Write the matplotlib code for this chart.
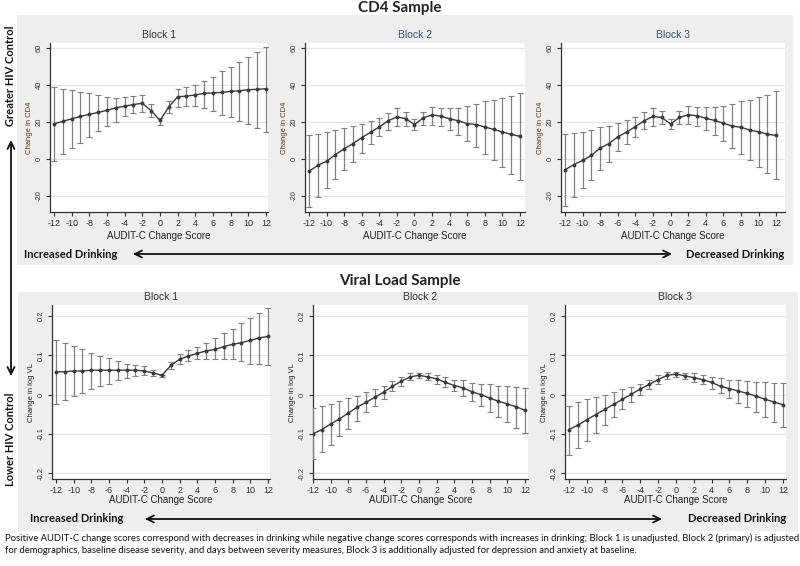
import matplotlib
matplotlib.use("Agg")
import matplotlib.pyplot as plt
from matplotlib.patches import Rectangle, FancyArrowPatch
import numpy as np

# ---------------- data ----------------
audit_x = list(range(-12, 13))
block_titles = ["Block 1", "Block 2", "Block 3"]

# CD4 sample
cd4_b1 = [18.9, 20.2, 21.6, 22.9, 24.0, 25.0, 26.2, 27.5, 28.4, 29.3, 30.0, 26.0, 20.7,
          28.0, 33.5, 33.8, 34.5, 35.3, 35.6, 35.8, 36.4, 36.7, 37.3, 37.5, 37.8]
cd4_b1_lo = [-1.0, 2.4, 5.6, 8.7, 12.0, 15.0, 17.8, 20.0, 23.0, 24.7, 25.0, 22.5, 18.5,
             24.7, 28.0, 28.7, 28.4, 27.5, 26.0, 23.8, 22.4, 20.5, 18.7, 16.5, 14.4]
cd4_b1_hi = [38.5, 37.8, 37.0, 36.2, 35.3, 34.4, 33.5, 33.0, 33.3, 33.8, 34.5, 29.6, 22.2,
             31.0, 37.8, 38.5, 40.0, 42.2, 44.4, 47.5, 49.6, 52.5, 55.0, 57.8, 60.5]

cd4_b2 = [-6.7, -3.6, -1.3, 2.2, 5.4, 8.2, 11.4, 14.3, 17.2, 20.5, 22.6, 21.7, 18.5,
          22.1, 23.7, 23.0, 21.6, 20.5, 19.0, 18.5, 17.2, 15.9, 14.5, 13.2, 12.1]
cd4_b2_lo = [-25.9, -20.8, -15.8, -10.9, -6.3, -1.8, 3.1, 7.8, 12.1, 15.4, 17.6, 17.6, 15.4,
             18.1, 18.5, 17.6, 15.8, 12.7, 9.6, 6.3, 2.7, -0.5, -4.5, -8.2, -11.4]
cd4_b2_hi = [12.7, 13.6, 14.3, 15.4, 16.7, 17.6, 19.0, 20.5, 22.1, 24.8, 27.2, 25.4, 21.4,
             25.4, 28.1, 27.5, 27.2, 27.5, 28.4, 29.5, 31.0, 31.7, 33.0, 33.9, 35.3]

cd4_b3 = [-6.0, -3.1, -0.9, 1.8, 5.9, 8.2, 11.9, 14.4, 17.4, 20.5, 22.9, 22.3, 18.8,
          22.3, 23.8, 23.2, 21.9, 20.7, 19.2, 17.7, 17.0, 15.5, 14.6, 13.3, 12.6]
cd4_b3_lo = [-25.6, -20.7, -15.9, -11.5, -5.9, -1.5, 4.0, 7.9, 11.9, 15.9, 17.7, 18.6, 15.9,
             18.6, 18.6, 17.7, 15.5, 12.8, 9.5, 6.0, 2.7, -0.5, -4.2, -7.9, -11.0]
cd4_b3_hi = [13.3, 14.1, 14.6, 15.5, 17.4, 17.7, 19.2, 20.7, 22.5, 25.0, 27.4, 26.0, 21.4,
             25.6, 28.3, 27.8, 27.8, 28.0, 28.7, 29.8, 31.1, 32.0, 33.3, 34.2, 36.6]

# Viral load sample
vl_b1 = [0.058, 0.058, 0.060, 0.060, 0.062, 0.062, 0.062, 0.062, 0.062, 0.062, 0.060, 0.055, 0.049,
         0.074, 0.090, 0.098, 0.105, 0.111, 0.115, 0.122, 0.128, 0.132, 0.138, 0.144, 0.148]
vl_b1_lo = [-0.023, -0.015, -0.004, 0.003, 0.013, 0.023, 0.028, 0.037, 0.043, 0.047, 0.049, 0.047, 0.045,
            0.064, 0.077, 0.085, 0.090, 0.091, 0.091, 0.091, 0.090, 0.085, 0.079, 0.079, 0.074]
vl_b1_hi = [0.139, 0.132, 0.124, 0.115, 0.107, 0.098, 0.092, 0.085, 0.079, 0.076, 0.073, 0.062, 0.051,
            0.083, 0.103, 0.113, 0.120, 0.131, 0.143, 0.156, 0.168, 0.181, 0.194, 0.208, 0.220]

vl_b2 = [-0.100, -0.089, -0.075, -0.062, -0.047, -0.032, -0.020, -0.007, 0.006, 0.021, 0.034, 0.045, 0.049,
         0.045, 0.040, 0.031, 0.023, 0.017, 0.007, 0.000, -0.009, -0.017, -0.024, -0.031, -0.040]
vl_b2_lo = [-0.165, -0.147, -0.128, -0.106, -0.088, -0.068, -0.045, -0.028, -0.011, 0.009, 0.021, 0.036, 0.043,
            0.037, 0.028, 0.019, 0.009, -0.004, -0.017, -0.030, -0.044, -0.057, -0.071, -0.085, -0.098]
vl_b2_hi = [-0.035, -0.030, -0.024, -0.017, -0.009, -0.003, 0.006, 0.013, 0.021, 0.034, 0.044, 0.054, 0.055,
            0.054, 0.051, 0.044, 0.038, 0.037, 0.030, 0.028, 0.026, 0.023, 0.021, 0.019, 0.017]

vl_b3 = [-0.089, -0.078, -0.064, -0.051, -0.038, -0.025, -0.012, 0.001, 0.014, 0.026, 0.038, 0.049, 0.052,
         0.048, 0.043, 0.038, 0.031, 0.021, 0.015, 0.009, 0.003, -0.004, -0.012, -0.019, -0.026]
vl_b3_lo = [-0.155, -0.136, -0.118, -0.098, -0.077, -0.057, -0.038, -0.019, -0.002, 0.013, 0.026, 0.039, 0.045,
            0.039, 0.032, 0.026, 0.015, 0.003, -0.009, -0.021, -0.031, -0.044, -0.057, -0.070, -0.083]
vl_b3_hi = [-0.028, -0.019, -0.012, -0.006, 0.000, 0.007, 0.014, 0.020, 0.028, 0.038, 0.049, 0.058, 0.058,
            0.056, 0.054, 0.049, 0.045, 0.041, 0.037, 0.037, 0.034, 0.032, 0.032, 0.030, 0.030]

cd4_yticks = [-20, 0, 20, 40, 60]
cd4_yticklabels = ["-20", "0", "20", "40", "60"]
vl_yticks = [-0.2, -0.1, 0, 0.1, 0.2]
vl_yticklabels = ["-0.2", "-0.1", "0", "0.1", "0.2"]
xticks = list(range(-12, 13, 2))

footnote = ("Positive AUDIT-C change scores correspond with decreases in drinking while negative change scores corresponds "
            "with increases in drinking; Block 1 is unadjusted, Block 2 (primary) is adjusted\n"
            "for demographics, baseline disease severity, and days between severity measures, Block 3 is additionally "
            "adjusted for depression and anxiety at baseline.")

# ---------------- figure ----------------
W, H = 800, 566
fig = plt.figure(figsize=(W / 100, H / 100), dpi=100)
fig.patch.set_facecolor("white")

def fx(px):
    return px / W

def fy(py):
    return 1 - py / H

def rect_px(l, t, r, b):
    return [fx(l), fy(b), fx(r) - fx(l), fy(t) - fy(b)]

PANEL = "#eeeeee"
fig.add_artist(Rectangle((fx(17), fy(265)), fx(793) - fx(17), fy(15) - fy(265),
                         transform=fig.transFigure, facecolor=PANEL, edgecolor="none", zorder=0))
fig.add_artist(Rectangle((fx(18), fy(531)), fx(798) - fx(18), fy(292) - fy(531),
                         transform=fig.transFigure, facecolor=PANEL, edgecolor="none", zorder=0))

PLOT_FONT = "Liberation Sans"
BOLD_FONT = "Lato"

def style_ax(ax, yticks, ylabels, ylabel, ylabel_color, xlim, ylim):
    ax.set_facecolor("white")
    ax.set_xlim(*xlim)
    ax.set_ylim(*ylim)
    ax.set_xticks(xticks)
    ax.set_xticklabels([str(v) for v in xticks], fontsize=6.5, family=PLOT_FONT, color="#222222")
    ax.set_yticks(yticks)
    ax.set_yticklabels(ylabels, fontsize=5.5, family=PLOT_FONT, rotation=90, va="center", color="#222222")
    ax.yaxis.grid(True, color="#e4e4e4", lw=0.8)
    ax.set_axisbelow(True)
    for s in ["top", "right"]:
        ax.spines[s].set_visible(False)
    for s in ["left", "bottom"]:
        ax.spines[s].set_color("#333333")
        ax.spines[s].set_linewidth(0.9)
    ax.tick_params(direction="out", length=3, width=0.8, colors="#333333", pad=2)
    ax.set_ylabel(ylabel, fontsize=5.5, family=PLOT_FONT, color=ylabel_color, labelpad=2)

def draw(ax, v, lo, hi):
    v = np.array(v); lo = np.array(lo); hi = np.array(hi)
    ax.errorbar(audit_x, v, yerr=[v - lo, hi - v], fmt="-o", color="#3a3a3a", lw=1.0,
                markersize=1.8, ecolor="#808080", elinewidth=0.9, capsize=2.2, capthick=0.8,
                clip_on=True, zorder=3)

top_boxes = [(50, 43, 268, 212), (305, 43, 525, 212), (561, 43, 785, 212)]
top_xlims = [(-12.45, 12.23), (-12.45, 12.57), (-12.45, 13.0)]
top_data = [(cd4_b1, cd4_b1_lo, cd4_b1_hi), (cd4_b2, cd4_b2_lo, cd4_b2_hi), (cd4_b3, cd4_b3_lo, cd4_b3_hi)]
title_colors_top = ["#333333", "#3d4f70", "#3d4f70"]

for i in range(3):
    ax = fig.add_axes(rect_px(*top_boxes[i]))
    style_ax(ax, cd4_yticks, cd4_yticklabels, "Change in CD4", "#6b2e14", top_xlims[i], (-28.7, 62.5))
    draw(ax, *top_data[i])
    ax.set_xlabel("AUDIT-C Change Score", fontsize=7, family=PLOT_FONT, color="#222222", labelpad=2)
    l, t, r, b = top_boxes[i]
    fig.text(fx((l + r) / 2), fy(35), block_titles[i], ha="center", va="center",
             fontsize=7.5, family=PLOT_FONT, color=title_colors_top[i])

bot_boxes = [(52, 305, 270, 479), (313, 305, 528, 479), (565, 305, 786, 479)]
bot_xlims = [(-12.45, 12.23), (-12.0, 12.35), (-12.45, 12.35)]
bot_data = [(vl_b1, vl_b1_lo, vl_b1_hi), (vl_b2, vl_b2_lo, vl_b2_hi), (vl_b3, vl_b3_lo, vl_b3_hi)]

for i in range(3):
    ax = fig.add_axes(rect_px(*bot_boxes[i]))
    style_ax(ax, vl_yticks, vl_yticklabels, "Change in log VL", "#222222", bot_xlims[i], (-0.215, 0.228))
    draw(ax, *bot_data[i])
    ax.set_xlabel("AUDIT-C Change Score", fontsize=7, family=PLOT_FONT, color="#222222", labelpad=0)
    l, t, r, b = bot_boxes[i]
    fig.text(fx((l + r) / 2), fy(297), block_titles[i], ha="center", va="center",
             fontsize=7.5, family=PLOT_FONT, color="#333333")

# section titles
fig.text(fx(400), fy(8), "CD4 Sample", ha="center", va="center", fontsize=11, fontweight="bold",
         family=BOLD_FONT, color="#222222")
fig.text(fx(400), fy(281), "Viral Load Sample", ha="center", va="center", fontsize=11, fontweight="bold",
         family=BOLD_FONT, color="#222222")

# horizontal drinking arrows
def harrow(y, x0, x1):
    fig.add_artist(FancyArrowPatch((fx(x0), fy(y)), (fx(x1), fy(y)), transform=fig.transFigure,
                                   arrowstyle="<->,head_length=5,head_width=2.5", lw=1.3, color="#111111",
                                   shrinkA=0, shrinkB=0))

fig.text(fx(24), fy(254), "Increased Drinking", ha="left", va="center", fontsize=8, fontweight="bold",
         family=BOLD_FONT, color="#111111")
fig.text(fx(784), fy(254), "Decreased Drinking", ha="right", va="center", fontsize=8, fontweight="bold",
         family=BOLD_FONT, color="#111111")
harrow(254, 133, 672)

fig.text(fx(30), fy(519), "Increased Drinking", ha="left", va="center", fontsize=8, fontweight="bold",
         family=BOLD_FONT, color="#111111")
fig.text(fx(786), fy(519), "Decreased Drinking", ha="right", va="center", fontsize=8, fontweight="bold",
         family=BOLD_FONT, color="#111111")
harrow(519, 145, 662)

# vertical HIV control arrow
fig.add_artist(FancyArrowPatch((fx(11), fy(376)), (fx(11), fy(140)), transform=fig.transFigure,
                               arrowstyle="<->,head_length=5,head_width=2.5", lw=1.3, color="#111111",
                               shrinkA=0, shrinkB=0))
fig.text(fx(11), fy(76), "Greater HIV Control", rotation=90, ha="center", va="center", fontsize=8,
         fontweight="bold", family=BOLD_FONT, color="#111111")
fig.text(fx(11), fy(439), "Lower HIV Control", rotation=90, ha="center", va="center", fontsize=8,
         fontweight="bold", family=BOLD_FONT, color="#111111")

# footnote
fig.text(fx(5), fy(544), footnote, ha="left", va="center", fontsize=6.8, family=BOLD_FONT,
         color="#111111", linespacing=1.4)

fig.savefig("out.png", dpi=100, facecolor="white")
